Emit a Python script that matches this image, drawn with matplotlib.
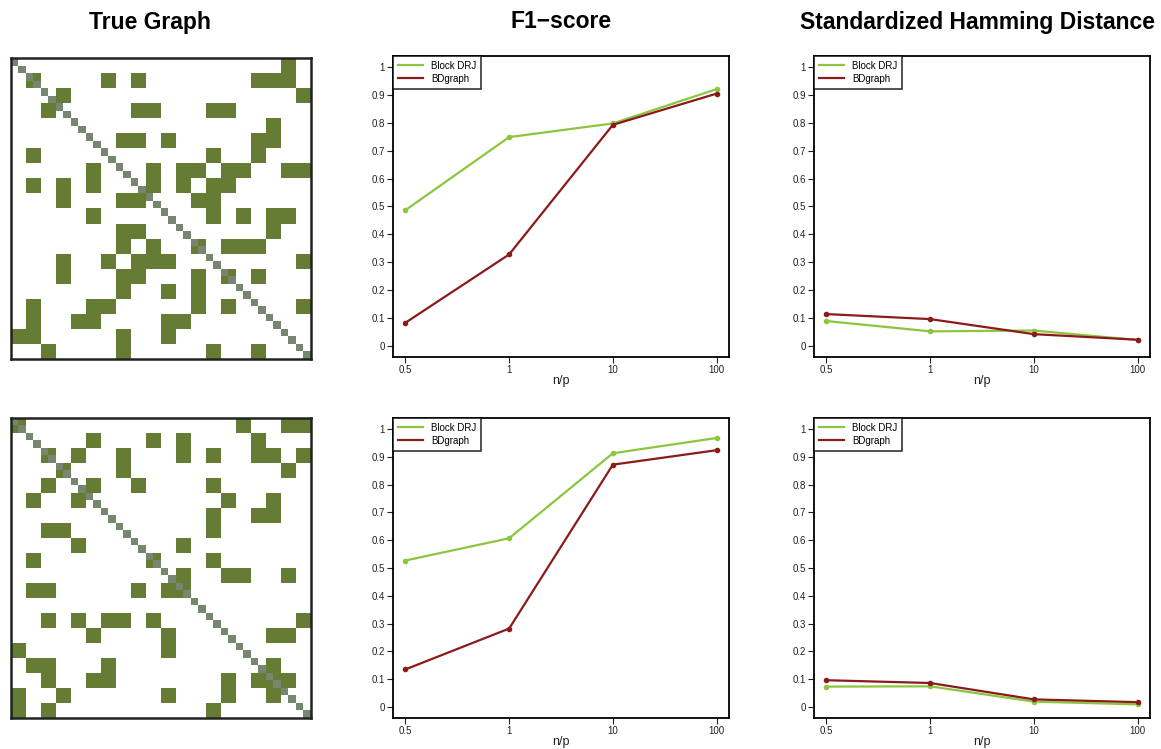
import numpy as np
import matplotlib
matplotlib.use('Agg')
import matplotlib.pyplot as plt
from matplotlib.colors import ListedColormap

plt.rcParams['font.family'] = ['Liberation Sans', 'DejaVu Sans']

# true graphs: edges between node pairs (20 blocks of 2 nodes) + pairs with an inner edge
edges_top = [(0, 18), (1, 6), (1, 8), (1, 16), (1, 17), (1, 18), (2, 3), (2, 19),
             (3, 8), (3, 9), (3, 13), (3, 14), (4, 17), (5, 7), (5, 8), (5, 10),
             (5, 16), (5, 17), (6, 13), (6, 16), (7, 9), (7, 11), (7, 12), (7, 14),
             (7, 15), (7, 18), (7, 19), (8, 9), (8, 11), (8, 13), (8, 14), (9, 12),
             (9, 13), (10, 13), (10, 15), (10, 17), (10, 18), (11, 17), (12, 14),
             (12, 15), (12, 16), (13, 19), (14, 16), (16, 19)]
inner_top = [1, 12, 14]

edges_bot = [(0, 15), (0, 18), (0, 19), (1, 5), (1, 9), (1, 11), (1, 16), (2, 4),
             (2, 7), (2, 11), (2, 13), (2, 16), (2, 17), (2, 19), (3, 7), (3, 18),
             (4, 5), (4, 8), (4, 13), (5, 14), (5, 17), (6, 13), (6, 16), (6, 17),
             (7, 13), (8, 11), (9, 13), (10, 11), (10, 14), (10, 15), (10, 18),
             (13, 19), (14, 17), (14, 18), (16, 17), (17, 18)]
inner_bot = [0, 2, 3, 9, 11, 17]

x_labels = ['0.5', '1', '10', '100']
f1_drj_top = [0.487, 0.749, 0.798, 0.921]
f1_bd_top = [0.083, 0.328, 0.793, 0.905]
shd_drj_top = [0.089, 0.052, 0.055, 0.021]
shd_bd_top = [0.114, 0.096, 0.042, 0.022]
f1_drj_bot = [0.527, 0.607, 0.913, 0.968]
f1_bd_bot = [0.135, 0.282, 0.872, 0.924]
shd_drj_bot = [0.073, 0.074, 0.019, 0.009]
shd_bd_bot = [0.096, 0.086, 0.027, 0.017]

GREEN = '#8cc63f'
RED = '#8b1a1a'
W, H = 1161, 749


def build_matrix(edges, inner, nb=20):
    A = np.zeros((nb, nb))
    for i, j in edges:
        A[i, j] = A[j, i] = 1
    M = np.kron(A, np.ones((2, 2)))
    for k in inner:
        M[2 * k, 2 * k + 1] = M[2 * k + 1, 2 * k] = 1
    np.fill_diagonal(M, 2)
    return M


def px_axes(fig, x0, y0, x1, y1):
    return fig.add_axes([x0 / W, 1 - y1 / H, (x1 - x0) / W, (y1 - y0) / H])


fig = plt.figure(figsize=(W / 100, H / 100), dpi=100)
cmap = ListedColormap(['white', '#667c34', '#76866f'])

for M, (y0, y1) in [(build_matrix(edges_top, inner_top), (58, 359)),
                    (build_matrix(edges_bot, inner_bot), (418, 718))]:
    ax = px_axes(fig, 11, y0, 311, y1)
    ax.imshow(M, cmap=cmap, vmin=0, vmax=2, interpolation='nearest', aspect='auto')
    ax.set_xticks([])
    ax.set_yticks([])
    for s in ax.spines.values():
        s.set_linewidth(1.8)
        s.set_color('#222222')


def line_panel(ax, drj, bd):
    x = np.arange(1, len(x_labels) + 1)
    ax.plot(x, drj, color=GREEN, lw=1.6, marker='o', ms=3, label='Block DRJ')
    ax.plot(x, bd, color=RED, lw=1.6, marker='o', ms=3, label='BDgraph')
    ax.set_xlim(0.88, 4.12)
    ax.set_ylim(-0.04, 1.04)
    ax.set_xticks(x)
    ax.set_xticklabels(x_labels)
    ax.set_yticks(np.arange(0, 1.01, 0.1))
    ax.set_yticklabels(['0'] + ['%.1f' % v for v in np.arange(0.1, 0.95, 0.1)] + ['1'])
    ax.tick_params(labelsize=7, length=4, width=0.8, pad=2, color='#222222', labelcolor='#222222')
    ax.set_xlabel('n/p', fontsize=9, labelpad=0, color='#222222')
    for s in ax.spines.values():
        s.set_linewidth(1.3)
    leg = ax.legend(loc='upper left', fontsize=7, frameon=True, fancybox=False,
                    borderaxespad=0, handlelength=2.6, borderpad=0.5, labelspacing=0.3)
    leg.get_frame().set_edgecolor('black')
    leg.get_frame().set_linewidth(1.2)
    for h in leg.legend_handles:
        h.set_marker('')


line_panel(px_axes(fig, 393, 56, 729, 357), f1_drj_top, f1_bd_top)
line_panel(px_axes(fig, 814, 56, 1150, 357), shd_drj_top, shd_bd_top)
line_panel(px_axes(fig, 393, 418, 729, 718), f1_drj_bot, f1_bd_bot)
line_panel(px_axes(fig, 814, 418, 1150, 718), shd_drj_bot, shd_bd_bot)

for xc, t in [(150, 'True Graph'), (561, 'F1\u2212score'), (977, 'Standardized Hamming Distance')]:
    fig.text(xc / W, 1 - 22 / H, t, ha='center', va='center', fontsize=16.5, fontweight='bold')

fig.savefig('out.png', dpi=100)
